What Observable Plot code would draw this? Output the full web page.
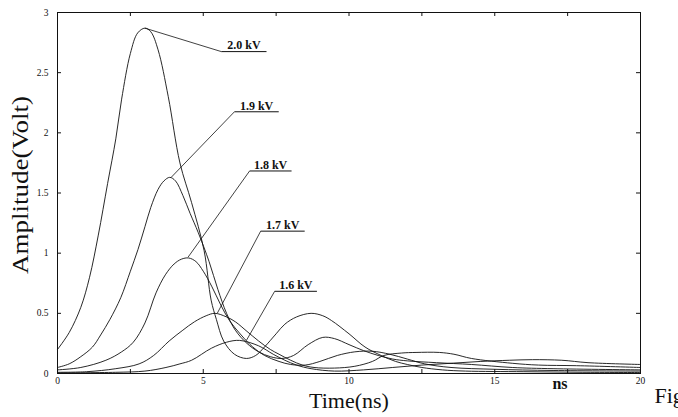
<!DOCTYPE html>
<html><head><meta charset="utf-8">
<script src="https://cdn.jsdelivr.net/npm/d3@7"></script>
<script src="https://cdn.jsdelivr.net/npm/@observablehq/plot@0.6"></script>
<style>body{margin:0;background:#fff}</style>
</head><body><div id="chart"></div>
<script>
// ---- data ----
const seriesNames = ["2.0 kV", "1.9 kV", "1.8 kV", "1.7 kV", "1.6 kV"];

const t20 = [0,0.4,0.8,1.1,1.4,1.72,2.0,2.2,2.5,2.75,3.0,3.2,3.45,3.8,4.2,4.6,5.03,5.27,5.45,5.7,6.07,6.48,6.8,7.1,7.5,7.8,8.2,8.7,9.1,9.4,10.0,10.55,11.1,11.6,12.0,12.5,13.2,14,16,18,20];
const v20 = [0.2,0.34,0.55,0.8,1.15,1.58,1.95,2.28,2.66,2.83,2.87,2.84,2.69,2.3,1.75,1.42,1.02,0.61,0.45,0.27,0.16,0.125,0.15,0.22,0.33,0.41,0.47,0.5,0.48,0.44,0.33,0.22,0.15,0.1,0.075,0.05,0.03,0.02,0.015,0.01,0.008];

const t19 = [0,0.4,0.8,1.2,1.48,1.8,2.17,2.5,2.76,3.0,3.2,3.45,3.65,3.85,4.05,4.3,4.55,4.83,5.2,5.5,5.8,6.1,6.5,6.9,7.3,7.7,8.1,8.6,9.1,9.5,10.0,10.5,11.0,11.5,12,13,14.2,15.6,17,20];
const v19 = [0.05,0.08,0.14,0.22,0.32,0.45,0.63,0.85,1.03,1.22,1.38,1.53,1.6,1.63,1.6,1.48,1.33,1.17,0.93,0.7,0.5,0.36,0.25,0.18,0.14,0.125,0.15,0.24,0.3,0.29,0.24,0.19,0.15,0.12,0.105,0.09,0.075,0.05,0.04,0.03];

const t18 = [0,0.8,1.66,2.2,2.6,3.0,3.38,3.7,4.0,4.25,4.5,4.75,5.0,5.3,5.6,5.9,6.3,6.7,7.1,7.6,8.0,8.5,9.0,9.6,10.2,10.8,11.4,12,12.6,13.5,15,17,20];
const v18 = [0.03,0.05,0.11,0.18,0.26,0.42,0.67,0.82,0.91,0.95,0.96,0.93,0.85,0.72,0.57,0.44,0.32,0.22,0.15,0.1,0.075,0.07,0.1,0.15,0.18,0.185,0.16,0.12,0.08,0.05,0.035,0.025,0.02];

const t17 = [0,1.0,2.0,2.8,3.3,3.83,4.3,4.7,5.1,5.4,5.8,6.1,6.5,6.9,7.3,7.6,8.0,8.4,8.8,9.5,10.2,10.8,11.2,11.8,12.3,13.1,13.6,14.2,15.6,16.5,17.8,20];
const v17 = [0.01,0.015,0.04,0.08,0.15,0.27,0.36,0.43,0.48,0.5,0.47,0.43,0.35,0.27,0.2,0.16,0.11,0.07,0.05,0.045,0.06,0.1,0.15,0.17,0.175,0.175,0.16,0.125,0.085,0.07,0.065,0.05];

const t16 = [0,2.0,3.0,3.72,4.2,4.6,5.28,5.8,6.25,6.9,7.4,7.8,8.2,8.7,9.5,10.5,11.5,12.5,13.5,14.5,15.5,16.3,17.3,18.2,20];
const v16 = [0.005,0.01,0.02,0.05,0.08,0.11,0.21,0.26,0.275,0.23,0.16,0.11,0.07,0.04,0.02,0.03,0.05,0.07,0.085,0.1,0.11,0.115,0.11,0.09,0.075];

const seriesT = [t20, t19, t18, t17, t16];
const seriesV = [v20, v19, v18, v17, v16];

// annotation anchors (data units): underline ends and the peak each leader points to
const labelT0 = [5.62, 6.07, 6.59, 6.97, 7.45];
const labelT1 = [7.17, 7.59, 8.03, 8.48, 8.9];
const labelV  = [2.675, 2.175, 1.683, 1.183, 0.683];
const peakT   = [3.0, 3.9, 4.48, 5.48, 6.48];
const peakV   = [2.87, 1.63, 0.967, 0.5, 0.275];

const xMinorTicks = [0,2.5,5,7.5,10,12.5,15,17.5,20];
const xTickValues = [0,5,10,15,20];
const xTickLabels = ["0","5","10","15","20"];
const yTickValues = [0,0.5,1,1.5,2,2.5,3];
const yTickLabels = ["0","0.5","1","1.5","2","2.5","3"];

// ---- build table ----
const rows = seriesNames.flatMap((name, k) =>
  seriesT[k].map((t, i) => ({series: name, t, v: seriesV[k][i]})));
const labels = seriesNames.map((name, k) => ({
  name, t0: labelT0[k], t1: labelT1[k], v: labelV[k], pt: peakT[k], pv: peakV[k]
}));

const serif = "'Liberation Serif', 'DejaVu Serif', serif";
const ink = "#111";
const W = 678, H = 417, ML = 57, MR = 38, MT = 12, MB = 44;
const innerW = W - ML - MR, innerH = H - MT - MB, tk = 4;

const chart = Plot.plot({
  width: W, height: H,
  marginLeft: ML, marginRight: MR, marginTop: MT, marginBottom: MB,
  x: {domain: [0, 20]},
  y: {domain: [0, 3]},
  style: {fontFamily: serif, background: "#fff", color: ink, overflow: "visible"},
  marks: [
    Plot.frame({stroke: ink, strokeWidth: 1}),
    // inward ticks on all four sides
    Plot.ruleX(xMinorTicks, {x: (d) => d, insetTop: innerH - tk, stroke: ink}),
    Plot.ruleX(xMinorTicks, {x: (d) => d, insetBottom: innerH - tk, stroke: ink}),
    Plot.ruleY(yTickValues, {y: (d) => d, insetRight: innerW - tk, stroke: ink}),
    Plot.ruleY(yTickValues, {y: (d) => d, insetLeft: innerW - tk, stroke: ink}),
    // tick labels
    Plot.axisX(xTickValues, {anchor: "bottom", tickSize: 0, tickPadding: 4, fontSize: 9.5,
      tickFormat: (d) => xTickLabels[xTickValues.indexOf(d)], label: null}),
    Plot.axisY(yTickValues, {anchor: "left", tickSize: 0, tickPadding: 9, fontSize: 9.5,
      tickFormat: (d) => yTickLabels[yTickValues.indexOf(d)], label: null}),
    // curves
    Plot.line(rows, {x: "t", y: "v", z: "series", stroke: ink, strokeWidth: 0.9, curve: "catmull-rom"}),
    // annotations
    Plot.link(labels, {x1: "pt", y1: "pv", x2: "t0", y2: "v", stroke: ink, strokeWidth: 0.8}),
    Plot.link(labels, {x1: "t0", y1: "v", x2: "t1", y2: "v", stroke: ink, strokeWidth: 1}),
    Plot.text(labels, {x: (d) => (d.t0 + d.t1) / 2, y: "v", text: "name", dy: -6,
      fontSize: 12, fontWeight: "bold", fill: ink}),
    // outer texts
    Plot.text(["Amplitude(Volt)"], {frameAnchor: "left", textAnchor: "middle", dx: -37, dy: -8, rotate: -90,
      fontSize: 23, fill: ink, className: "ylab"}),
    Plot.text(["Time(ns)"], {frameAnchor: "bottom", dy: 34, fontSize: 22, fill: ink}),
    Plot.text(["ns"], {frameAnchor: "bottom-right", dx: -73, dy: 15, fontSize: 16, fontWeight: "bold", fill: ink}),
    Plot.text(["Fig"], {frameAnchor: "bottom-right", dx: 14, dy: 29, textAnchor: "start", fontSize: 22, fill: ink})
  ]
});
// slightly elongate the y-axis title like the reference
chart.querySelectorAll(".ylab text").forEach((t) => {
  t.setAttribute("textLength", 178);
  t.setAttribute("lengthAdjust", "spacingAndGlyphs");
});
document.getElementById("chart").append(chart);
</script>
</body></html>
